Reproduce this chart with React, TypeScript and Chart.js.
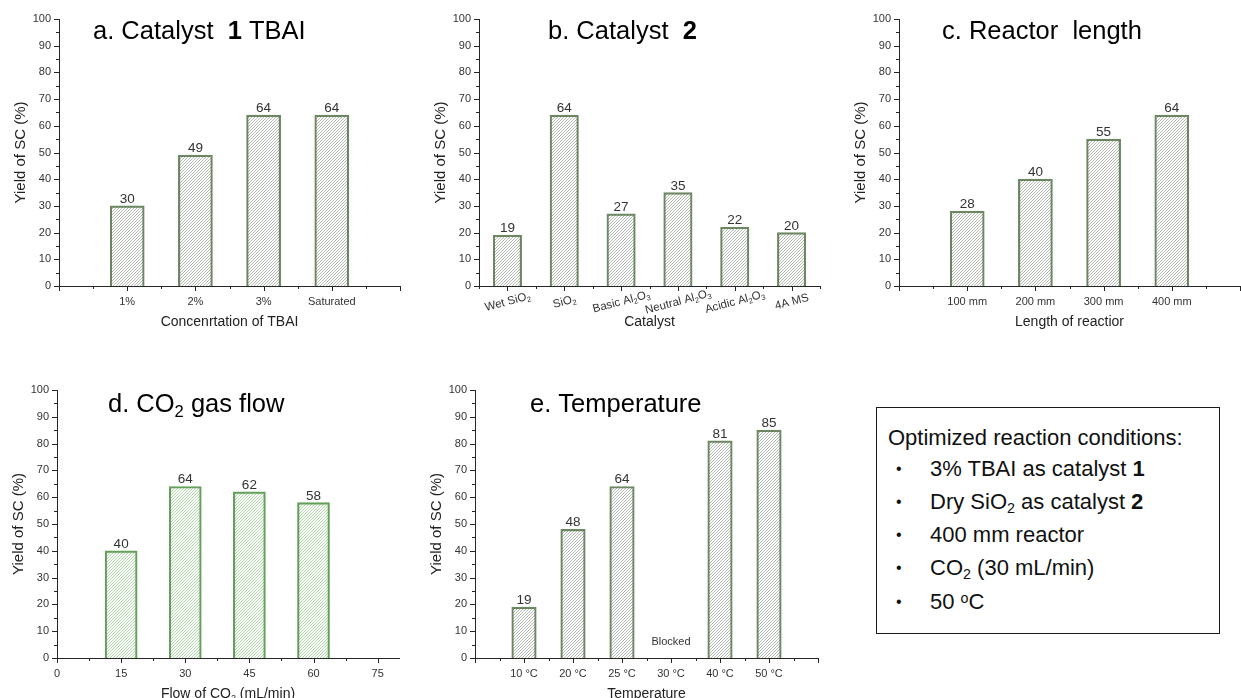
import React, { useEffect, useRef } from 'react';
import { Chart, registerables } from 'chart.js';

Chart.register(...registerables);

const FONT = '"Liberation Sans", Arial, Helvetica, sans-serif';
const AXIS = '#262626';
const TEXT = '#333333';

// ---------------- data ----------------
const yTickLabels = ['0', '10', '20', '30', '40', '50', '60', '70', '80', '90', '100'];

const tbaiLabels = ['1%', '2%', '3%', 'Saturated'];
const tbaiYield = [30, 49, 64, 64];

const cat2Labels = ['Wet SiO2', 'SiO2', 'Basic Al2O3', 'Neutral Al2O3', 'Acidic Al2O3', '4A MS'];
const cat2Yield = [19, 64, 27, 35, 22, 20];

const lengthLabels = ['100 mm', '200 mm', '300 mm', '400 mm'];
const lengthYield = [28, 40, 55, 64];

const flowValues = [15, 30, 45, 60];
const flowYield = [40, 64, 62, 58];
const flowTickLabels = ['0', '15', '30', '45', '60', '75'];

const tempLabels = ['10 °C', '20 °C', '25 °C', '30 °C', '40 °C', '50 °C'];
const tempYield: (number | null)[] = [19, 48, 64, null, 81, 85];
const blockedText = 'Blocked';
const blockedIndex = 3;
const blockedLevel = 6;

type Seg = { t: string; b?: boolean; sub?: boolean; sup?: boolean };

function chemSegs(s: string): Seg[] {
  const out: Seg[] = [];
  const re = /([A-Za-z])(\d+)/g;
  let last = 0;
  let m: RegExpExecArray | null;
  while ((m = re.exec(s))) {
    const cut = m.index + 1;
    out.push({ t: s.slice(last, cut) });
    out.push({ t: m[2], sub: true });
    last = cut + m[2].length;
  }
  if (last < s.length) out.push({ t: s.slice(last) });
  return out;
}

const titleA: Seg[] = [{ t: 'a. Catalyst  ' }, { t: '1', b: true }, { t: ' TBAI' }];
const titleB: Seg[] = [{ t: 'b. Catalyst  ' }, { t: '2', b: true }];
const titleC: Seg[] = [{ t: 'c. Reactor  length' }];
const titleD: Seg[] = chemSegs('d. CO2 gas flow');
const titleE: Seg[] = [{ t: 'e. Temperature' }];

const yTitle = 'Yield of SC (%)';
const xTitleA = 'Concenrtation of TBAI';
const xTitleB = 'Catalyst';
const xTitleC = 'Length of reactior';
const xTitleD = 'Flow of CO2 (mL/min)';
const xTitleE = 'Temperature';

const conditionsHeader: Seg[] = [{ t: 'Optimized reaction conditions:' }];
const conditionsItems: Seg[][] = [
  [{ t: '3% TBAI as catalyst ' }, { t: '1', b: true }],
  [{ t: 'Dry SiO' }, { t: '2', sub: true }, { t: ' as catalyst ' }, { t: '2', b: true }],
  [{ t: '400 mm reactor' }],
  [{ t: 'CO' }, { t: '2', sub: true }, { t: ' (30 mL/min)' }],
  [{ t: '50 ' }, { t: 'o', sup: true }, { t: 'C' }],
];

// ---------------- helpers ----------------
function segFont(s: Seg, size: number) {
  const sz = s.sub || s.sup ? size * 0.65 : size;
  return `${s.b ? 'bold ' : ''}${sz}px ${FONT}`;
}

function drawRich(ctx: CanvasRenderingContext2D, segs: Seg[], x: number, y: number, size: number, align: string, color: string) {
  ctx.save();
  ctx.fillStyle = color;
  ctx.textAlign = 'left';
  ctx.textBaseline = 'alphabetic';
  let w = 0;
  for (const s of segs) {
    ctx.font = segFont(s, size);
    w += ctx.measureText(s.t).width;
  }
  let cx = align === 'center' ? x - w / 2 : align === 'right' ? x - w : x;
  const base = y + size * 0.36;
  for (const s of segs) {
    ctx.font = segFont(s, size);
    const by = s.sub ? base + size * 0.2 : s.sup ? base - size * 0.4 : base;
    ctx.fillText(s.t, cx, by);
    cx += ctx.measureText(s.t).width;
  }
  ctx.restore();
}

function makeHatch(color: string) {
  const s = 3;
  const c = document.createElement('canvas');
  c.width = s;
  c.height = s;
  const g = c.getContext('2d')!;
  g.strokeStyle = color;
  g.lineWidth = 0.7;
  g.beginPath();
  g.moveTo(0, s);
  g.lineTo(s, 0);
  g.moveTo(-1, 1);
  g.lineTo(1, -1);
  g.moveTo(s - 1, s + 1);
  g.lineTo(s + 1, s - 1);
  g.stroke();
  return g.createPattern(c, 'repeat')!;
}

function catPoints(values: (number | null)[]) {
  const pts: { x: number; y: number }[] = [];
  values.forEach((v, i) => {
    if (v !== null) pts.push({ x: i + 1, y: v });
  });
  return pts;
}

interface Panel {
  id: string;
  area: { L: number; T: number; R: number; B: number };
  xMin: number;
  xMax: number;
  xStep: number;
  points: { x: number; y: number }[];
  isMajorX: (v: number) => boolean;
  xLabel: (v: number) => string;
  rotated?: string[];
  title: Seg[];
  titleDx: number;
  titleDy: number;
  xTitle: Seg[];
  hatch: string;
  border: string;
  blocked?: boolean;
}

const catLabel = (labels: string[]) => (v: number) =>
  Number.isInteger(v) && v >= 1 && v <= labels.length ? labels[v - 1] : '';

const GRAY_HATCH = 'rgba(80,92,76,0.62)';
const GRAY_BORDER = '#6e8864';
const GREEN_HATCH = 'rgba(70,165,55,0.62)';
const GREEN_BORDER = '#64a05a';

const panels: Panel[] = [
  {
    id: 'a',
    area: { L: 59, T: 19, R: 400, B: 286 },
    xMin: 0, xMax: 5, xStep: 0.5,
    points: catPoints(tbaiYield),
    isMajorX: (v) => Number.isInteger(v),
    xLabel: catLabel(tbaiLabels),
    title: titleA, titleDx: 34, titleDy: 11,
    xTitle: chemSegs(xTitleA),
    hatch: GRAY_HATCH, border: GRAY_BORDER,
  },
  {
    id: 'b',
    area: { L: 479, T: 19, R: 820, B: 286 },
    xMin: 0.5, xMax: 6.5, xStep: 0.5,
    points: catPoints(cat2Yield),
    isMajorX: (v) => Number.isInteger(v),
    xLabel: () => '',
    rotated: cat2Labels,
    title: titleB, titleDx: 69, titleDy: 11,
    xTitle: chemSegs(xTitleB),
    hatch: GRAY_HATCH, border: GRAY_BORDER,
  },
  {
    id: 'c',
    area: { L: 899, T: 19, R: 1240, B: 286 },
    xMin: 0, xMax: 5, xStep: 0.5,
    points: catPoints(lengthYield),
    isMajorX: (v) => Number.isInteger(v),
    xLabel: catLabel(lengthLabels),
    title: titleC, titleDx: 43, titleDy: 11,
    xTitle: chemSegs(xTitleC),
    hatch: GRAY_HATCH, border: GRAY_BORDER,
  },
  {
    id: 'd',
    area: { L: 57, T: 390, R: 399, B: 658 },
    xMin: 0, xMax: 80, xStep: 7.5,
    points: flowValues.map((x, i) => ({ x, y: flowYield[i] })),
    isMajorX: (v) => v % 15 === 0,
    xLabel: (v) => (flowTickLabels.includes(String(v)) ? String(v) : ''),
    title: titleD, titleDx: 51, titleDy: 13,
    xTitle: chemSegs(xTitleD),
    hatch: GREEN_HATCH, border: GREEN_BORDER,
  },
  {
    id: 'e',
    area: { L: 475, T: 390, R: 818, B: 658 },
    xMin: 0, xMax: 7, xStep: 0.5,
    points: catPoints(tempYield),
    isMajorX: (v) => Number.isInteger(v),
    xLabel: catLabel(tempLabels),
    title: titleE, titleDx: 55, titleDy: 13,
    xTitle: chemSegs(xTitleE),
    hatch: GRAY_HATCH, border: GRAY_BORDER,
    blocked: true,
  },
];

const PAD = { left: 59, top: 22, right: 20, bottom: 52 };

function PanelChart({ p }: { p: Panel }) {
  const ref = useRef<HTMLCanvasElement>(null);
  const cw = p.area.R - p.area.L + PAD.left + PAD.right;
  const ch = p.area.B - p.area.T + PAD.top + PAD.bottom;
  const cl = p.area.L - PAD.left;
  const ct = p.area.T - PAD.top;

  useEffect(() => {
    const decor = {
      id: 'decor' + p.id,
      afterDraw(chart: any) {
        const ctx: CanvasRenderingContext2D = chart.ctx;
        const xs = chart.scales.x;
        const ys = chart.scales.y;
        const a = chart.chartArea;
        // tick marks
        ctx.save();
        ctx.strokeStyle = AXIS;
        ctx.lineWidth = 1;
        ctx.beginPath();
        for (const t of xs.ticks) {
          const px = Math.round(xs.getPixelForValue(t.value)) + 0.5;
          const len = p.isMajorX(t.value) ? 5 : 3;
          ctx.moveTo(px, a.bottom);
          ctx.lineTo(px, a.bottom + len);
        }
        for (const t of ys.ticks) {
          const py = Math.round(ys.getPixelForValue(t.value)) + 0.5;
          const len = t.value % 10 === 0 ? 5 : 3;
          ctx.moveTo(a.left, py);
          ctx.lineTo(a.left - len, py);
        }
        ctx.stroke();
        ctx.restore();
        // value labels
        const meta = chart.getDatasetMeta(0);
        meta.data.forEach((el: any, i: number) => {
          ctx.save();
          ctx.font = `13.5px ${FONT}`;
          ctx.fillStyle = TEXT;
          ctx.textAlign = 'center';
          ctx.textBaseline = 'alphabetic';
          ctx.fillText(String(p.points[i].y), el.x, el.y - 3);
          ctx.restore();
        });
        // rotated category labels
        if (p.rotated) {
          p.rotated.forEach((lab, i) => {
            const px = xs.getPixelForValue(i + 1);
            ctx.save();
            ctx.translate(px, a.bottom + 15);
            ctx.rotate((-15 * Math.PI) / 180);
            drawRich(ctx, chemSegs(lab), 0, 0, 11.5, 'center', TEXT);
            ctx.restore();
          });
        }
        if (p.blocked) {
          ctx.save();
          ctx.font = `11px ${FONT}`;
          ctx.fillStyle = TEXT;
          ctx.textAlign = 'center';
          ctx.textBaseline = 'middle';
          ctx.fillText(blockedText, xs.getPixelForValue(blockedIndex + 1), ys.getPixelForValue(blockedLevel));
          ctx.restore();
        }
        // panel title
        drawRich(ctx, p.title, a.left + p.titleDx, a.top + p.titleDy, 25.5, 'left', '#000');
        // x title
        drawRich(ctx, p.xTitle, (a.left + a.right) / 2, a.bottom + 35, 14, 'center', '#222');
        // y title
        ctx.save();
        ctx.translate(a.left - 39, (a.top + a.bottom) / 2);
        ctx.rotate(-Math.PI / 2);
        drawRich(ctx, [{ t: yTitle }], 0, 0, 15, 'center', '#222');
        ctx.restore();
      },
    };

    const chart = new Chart(ref.current!, {
      type: 'bar',
      data: {
        datasets: [
          {
            data: p.points as any,
            backgroundColor: makeHatch(p.hatch),
            borderColor: p.border,
            borderWidth: 1.5,
            barPercentage: 1,
            categoryPercentage: 1,
          },
        ],
      },
      options: {
        responsive: false,
        maintainAspectRatio: false,
        devicePixelRatio: 1,
        animation: false,
        events: [],
        layout: { padding: { left: 0, top: PAD.top, right: PAD.right, bottom: 0 } },
        plugins: { legend: { display: false }, tooltip: { enabled: false } },
        scales: {
          x: {
            type: 'linear',
            min: p.xMin,
            max: p.xMax,
            offset: false,
            afterFit: (s: any) => {
              s.height = PAD.bottom;
            },
            ticks: {
              stepSize: p.xStep,
              includeBounds: false,
              autoSkip: false,
              maxRotation: 0,
              minRotation: 0,
              padding: 9,
              color: TEXT,
              font: { family: FONT, size: 11 },
              callback: (v: any) => p.xLabel(Number(v)),
            },
            grid: { display: false, drawTicks: false, offset: false },
            border: { display: true, color: AXIS, width: 1 },
          },
          y: {
            type: 'linear',
            min: 0,
            max: 100,
            afterFit: (s: any) => {
              s.width = PAD.left;
            },
            ticks: {
              stepSize: 5,
              autoSkip: false,
              padding: 8,
              color: TEXT,
              font: { family: FONT, size: 11 },
              callback: (v: any) => (yTickLabels.includes(String(v)) ? String(v) : ''),
            },
            grid: { display: false, drawTicks: false },
            border: { display: true, color: AXIS, width: 1 },
          },
        },
      } as any,
      plugins: [decor],
    });
    return () => chart.destroy();
  }, []);

  return (
    <canvas
      ref={ref}
      width={cw}
      height={ch}
      style={{ position: 'absolute', left: cl, top: ct, width: cw, height: ch }}
    />
  );
}

function RichSpan({ segs }: { segs: Seg[] }) {
  return (
    <>
      {segs.map((s, i) => (
        <span
          key={i}
          style={{
            fontWeight: s.b ? 'bold' : 'normal',
            fontSize: s.sub || s.sup ? '0.65em' : undefined,
            position: 'relative',
            top: s.sub ? '0.25em' : s.sup ? '-0.45em' : 0,
          }}
        >
          {s.t}
        </span>
      ))}
    </>
  );
}

function ConditionsBox() {
  const lineY = [30, 61, 94, 127, 160, 194];
  return (
    <div
      style={{
        position: 'absolute',
        left: 876,
        top: 407,
        width: 344,
        height: 227,
        border: '1.5px solid #1a1a1a',
        boxSizing: 'border-box',
        fontFamily: FONT,
        fontSize: 22,
        color: '#111',
      }}
    >
      <div style={{ position: 'absolute', left: 11, top: lineY[0] - 14, height: 28, lineHeight: '28px', whiteSpace: 'nowrap' }}>
        <RichSpan segs={conditionsHeader} />
      </div>
      {conditionsItems.map((segs, i) => (
        <React.Fragment key={i}>
          <div style={{ position: 'absolute', left: 19, top: lineY[i + 1] - 14, height: 28, lineHeight: '28px', fontSize: 16 }}>•</div>
          <div style={{ position: 'absolute', left: 53, top: lineY[i + 1] - 14, height: 28, lineHeight: '28px', whiteSpace: 'nowrap' }}>
            <RichSpan segs={segs} />
          </div>
        </React.Fragment>
      ))}
    </div>
  );
}

export default function App() {
  return (
    <div style={{ position: 'absolute', left: 0, top: 0, width: 1241, height: 698, overflow: 'hidden', background: '#fff' }}>
      {panels.map((p) => (
        <PanelChart key={p.id} p={p} />
      ))}
      <ConditionsBox />
    </div>
  );
}
